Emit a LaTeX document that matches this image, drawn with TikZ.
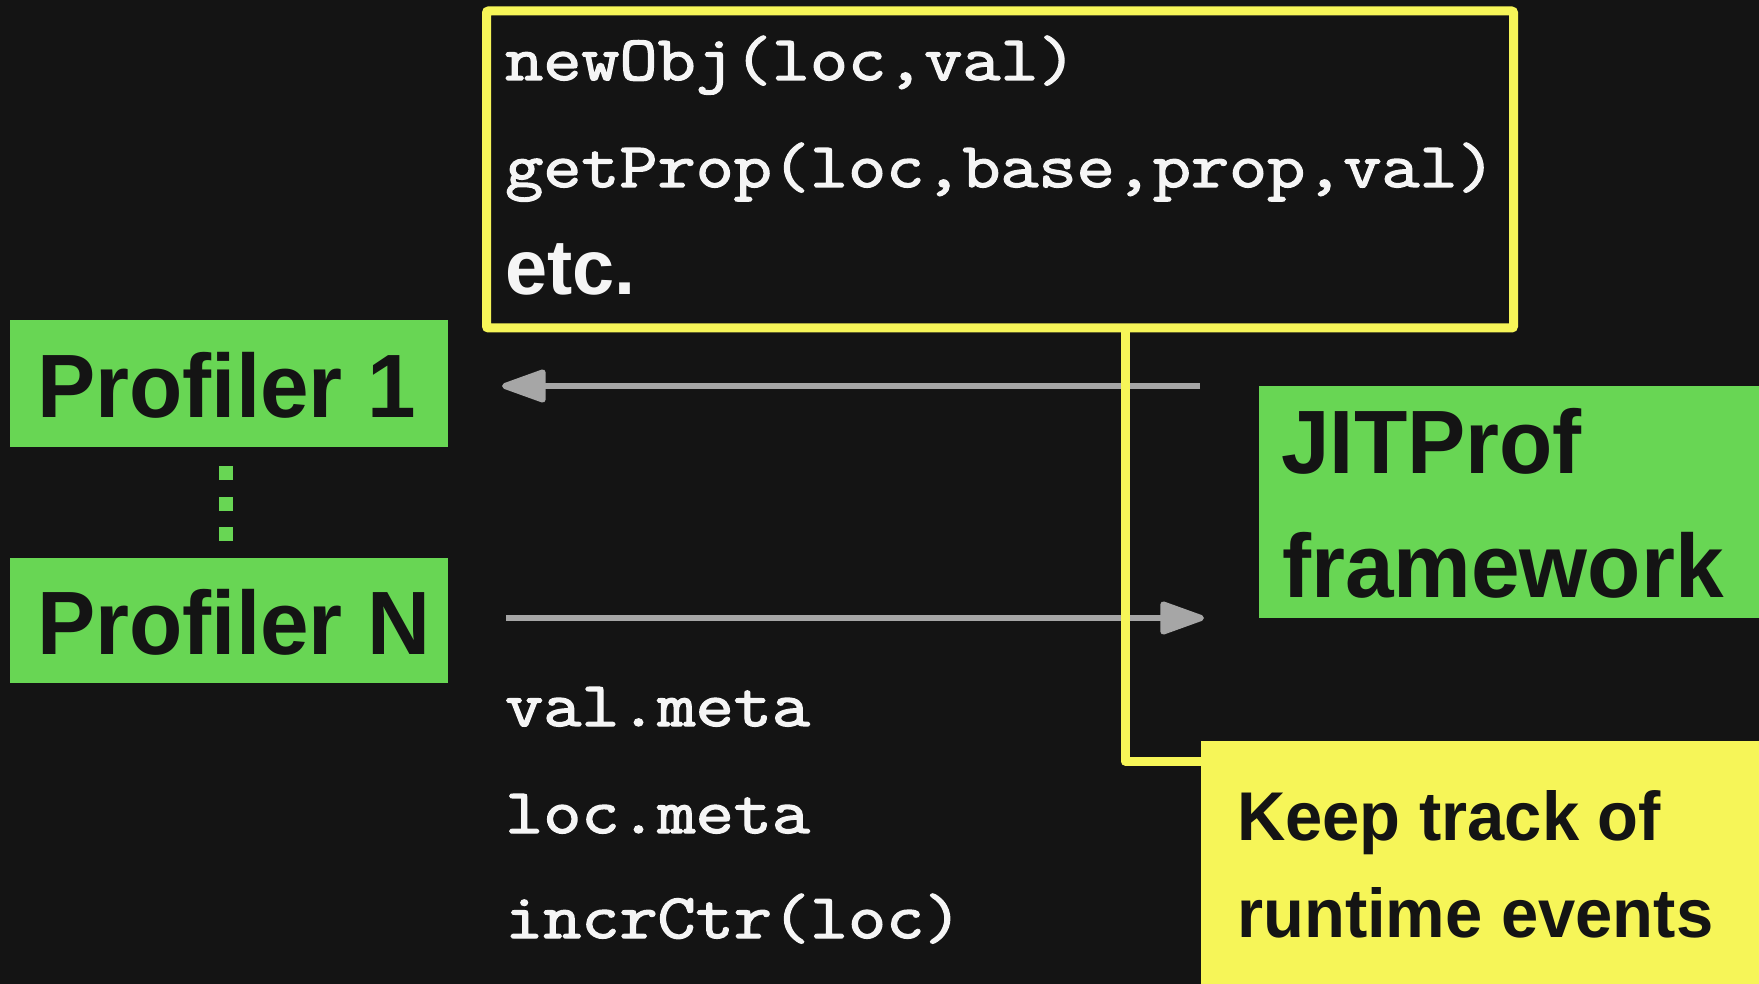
\documentclass[tikz,border=0pt]{standalone}
\usepackage{fontspec}
\usetikzlibrary{arrows.meta}
\newfontfamily\codefont[FakeBold=2.2,FakeStretch=1.165]{Latin Modern Mono}
\newfontfamily\labelfont[FakeStretch=0.97]{Liberation Sans}
\definecolor{bgdark}{HTML}{141414}
\definecolor{boxgreen}{HTML}{68D654}
\definecolor{noteyellow}{HTML}{F6F558}
\definecolor{arrowgrey}{HTML}{A6A6A6}
\definecolor{codewhite}{HTML}{F5F5F5}
\tikzset{
  panel/.style={draw=none, inner sep=0pt, outer sep=0pt, anchor=north west},
  greenbox/.style={panel, fill=boxgreen},
  notebox/.style={panel, fill=noteyellow},
  codeline/.style={inner sep=0pt, anchor=base west, text=codewhite,
    font=\codefont\fontsize{63.5}{63.5}\selectfont},
  biglabel/.style={inner sep=0pt, anchor=base west, text=bgdark,
    font=\labelfont\bfseries\fontsize{90}{90}\selectfont},
  notelabel/.style={inner sep=0pt, anchor=base west, text=bgdark,
    font=\labelfont\bfseries\fontsize{69}{69}\selectfont},
  flow/.style={draw=arrowgrey, line width=6pt,
    -{Triangle[length=50pt,width=34pt,round]}},
  hook/.style={draw=noteyellow, line width=9pt, line join=round},
  dotmark/.style={fill=boxgreen, draw=none, inner sep=0pt, outer sep=0pt,
    minimum size=14pt}
}
\begin{document}
\begin{tikzpicture}[x=1pt,y=-1pt]
  \useasboundingbox (0,0) rectangle (1759,984);
  \fill[bgdark] (0,0) rectangle (1759,984);

  % event list box
  \node[panel, fill=bgdark, draw=noteyellow, line width=9pt, rounded corners=2pt,
        minimum width=1027pt, minimum height=317pt] (events) at (486.5,11) {};
  \node[codeline] (newobj) at (505,80) {newObj(loc,val)};
  \node[codeline] (getprop) at (505,187) {getProp(loc,base,prop,val)};
  \node[inner sep=0pt, anchor=base west, text=codewhite,
        font=\labelfont\bfseries\fontsize{78}{78}\selectfont] (etc) at (505,295) {etc.};

  % profilers
  \node[greenbox, minimum width=438pt, minimum height=126pt] (prof1) at (10,320.5) {};
  \node[biglabel] (prof1txt) at (37,417) {Profiler 1};
  \node[greenbox, minimum width=438pt, minimum height=125pt] (profN) at (10,558) {};
  \node[biglabel] (profNtxt) at (37,654) {Profiler N};
  \node[dotmark] (dotA) at (226,473) {};
  \node[dotmark] (dotB) at (226,503.5) {};
  \node[dotmark] (dotC) at (226,533.5) {};

  % framework
  \node[greenbox, minimum width=500pt, minimum height=232pt] (jit) at (1259,386) {};
  \node[biglabel] (jittxt1) at (1281,473) {JITProf};
  \node[biglabel] (jittxt2) at (1282,597) {framework};

  % note
  \node[notebox, minimum width=558pt, minimum height=243pt] (note) at (1201,741) {};
  \node[notelabel] (notetxt1) at (1237,840) {Keep track of};
  \node[notelabel] (notetxt2) at (1237,937) {runtime events};

  % meta operations
  \node[codeline] (valmeta) at (505,726) {val.meta};
  \node[codeline] (locmeta) at (505,833) {loc.meta};
  \node[codeline] (incr) at (505,938) {incrCtr(loc)};

  % connectors
  \coordinate (callsFrom) at (1200,386);
  \coordinate (callsTo) at (502,386);
  \coordinate (metaFrom) at (506,618);
  \coordinate (metaTo) at (1204,618);
  \coordinate (hookTop) at (1125,328);
  \coordinate (hookBend) at (1125,761);
  \coordinate (hookEnd) at (1203,761);

  \draw[flow] (callsFrom) -- (callsTo);
  \draw[flow] (metaFrom) -- (metaTo);
  \draw[hook] (hookTop) -- (hookBend) -- (hookEnd);
\end{tikzpicture}
\end{document}
